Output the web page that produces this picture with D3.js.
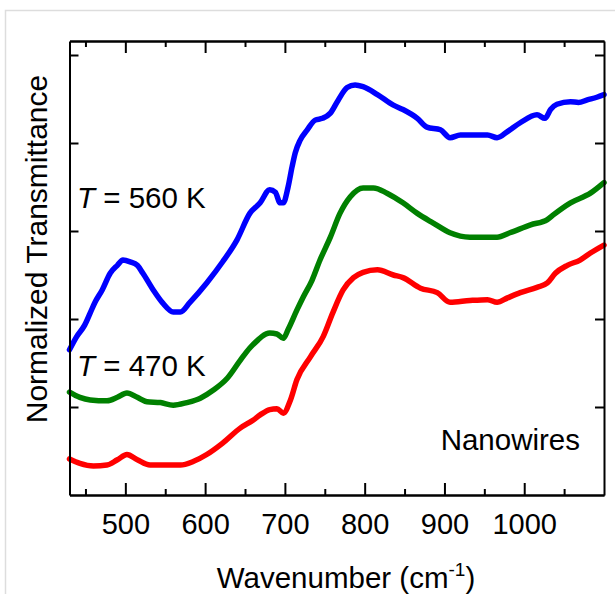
<!DOCTYPE html>
<html>
<head>
<meta charset="utf-8">
<script src="https://cdn.jsdelivr.net/npm/d3@7"></script>
<style>
  body { margin: 0; background: #fff; }
  text { font-family: 'Liberation Sans', Arial, Helvetica, sans-serif; fill: #000; }
  .ejes path, .ejes line { stroke: #000; stroke-width: 2; }
</style>
</head>
<body>
<div id="graf"></div>
<script>
// wavenumber (cm-1) and normalized transmittance (arb. units, 1 = one tick step)
const blueWave = [430, 439, 449, 456, 462, 471, 481, 490, 497, 506, 515, 522, 535, 547, 560, 569, 581, 602, 622, 640, 656, 669, 681, 688, 694, 698, 704, 709, 713, 719, 728, 738, 747, 757, 767, 778, 788, 798, 816, 836, 848, 866, 878, 895, 907, 920, 954, 966, 979, 995, 1016, 1026, 1033, 1041, 1058, 1068, 1079, 1091, 1100]
const blueVal = [1.65, 1.80, 1.93, 2.07, 2.19, 2.33, 2.52, 2.61, 2.67, 2.65, 2.61, 2.52, 2.33, 2.18, 2.08, 2.08, 2.19, 2.41, 2.65, 2.90, 3.20, 3.32, 3.47, 3.44, 3.32, 3.32, 3.50, 3.73, 3.89, 4.03, 4.15, 4.26, 4.28, 4.34, 4.49, 4.63, 4.66, 4.64, 4.55, 4.43, 4.38, 4.28, 4.18, 4.15, 4.06, 4.09, 4.09, 4.06, 4.13, 4.23, 4.32, 4.28, 4.38, 4.44, 4.47, 4.46, 4.49, 4.52, 4.55]

const greenWave = [430, 443, 456, 477, 490, 502, 515, 527, 544, 560, 577, 594, 610, 628, 644, 656, 666, 671, 681, 690, 698, 704, 715, 723, 734, 744, 757, 769, 782, 798, 811, 828, 848, 866, 886, 907, 932, 966, 982, 1008, 1029, 1036, 1058, 1083, 1100]
const greenVal = [1.17, 1.11, 1.08, 1.07, 1.11, 1.16, 1.11, 1.06, 1.05, 1.02, 1.05, 1.10, 1.19, 1.33, 1.53, 1.67, 1.76, 1.80, 1.84, 1.83, 1.78, 1.88, 2.10, 2.25, 2.44, 2.67, 2.93, 3.20, 3.39, 3.49, 3.49, 3.43, 3.32, 3.20, 3.09, 2.98, 2.93, 2.93, 2.98, 3.07, 3.13, 3.18, 3.32, 3.43, 3.55]

const redWave = [430, 443, 460, 477, 490, 502, 515, 531, 552, 569, 585, 602, 622, 644, 660, 669, 681, 690, 698, 707, 715, 732, 748, 760, 773, 786, 798, 816, 836, 848, 870, 891, 907, 932, 954, 966, 979, 995, 1016, 1029, 1039, 1054, 1070, 1083, 1100]
const redVal = [0.41, 0.36, 0.33, 0.34, 0.40, 0.46, 0.40, 0.34, 0.34, 0.34, 0.38, 0.46, 0.59, 0.76, 0.85, 0.91, 0.97, 0.98, 0.93, 1.08, 1.31, 1.57, 1.80, 2.07, 2.33, 2.47, 2.53, 2.56, 2.50, 2.47, 2.35, 2.30, 2.19, 2.21, 2.22, 2.19, 2.24, 2.30, 2.36, 2.41, 2.52, 2.61, 2.67, 2.75, 2.84]

const xMajor = [500, 600, 700, 800, 900, 1000]
const xMinor = [450, 550, 650, 750, 850, 950, 1050]
const yTicks = [1, 2, 3, 4, 5]

const series = [
  { wave: blueWave, val: blueVal, color: '#0000ff' },
  { wave: greenWave, val: greenVal, color: '#008000' },
  { wave: redWave, val: redVal, color: '#ff0000' },
]

const anchoTotal = 615
const altoTotal = 594
const margin = { top: 41, bottom: 99, left: 69.5, right: 11 }
const ancho = anchoTotal - margin.left - margin.right
const alto = altoTotal - margin.top - margin.bottom

const svg = d3.select('#graf')
  .append('svg')
  .attr('width', anchoTotal)
  .attr('height', altoTotal)

// light frame around the figure
svg.append('rect')
  .attr('x', 5.5)
  .attr('y', 10.5)
  .attr('width', 640)
  .attr('height', 640)
  .attr('fill', 'none')
  .attr('stroke', '#dddddd')
  .attr('stroke-width', 1.5)

const g = svg.append('g')
  .attr('transform', `translate(${margin.left}, ${margin.top})`)

const x = d3.scaleLinear().domain([430, 1100]).range([0, ancho])
const y = d3.scaleLinear().domain([0, alto / 88]).range([alto, 0])

const linea = d3.line()
  .x(d => x(d[0]))
  .y(d => y(d[1]))
  .curve(d3.curveMonotoneX)

series.forEach(s => {
  g.append('path')
    .datum(s.wave.map((w, i) => [w, s.val[i]]))
    .attr('d', linea)
    .attr('fill', 'none')
    .attr('stroke', s.color)
    .attr('stroke-width', 5.5)
    .attr('stroke-linejoin', 'round')
    .attr('stroke-linecap', 'round')
})

// axes: major and minor ticks pointing inward
const xAxisGroup = g.append('g')
  .attr('class', 'ejes')
  .attr('transform', `translate(0, ${alto})`)
  .call(d3.axisBottom(x).tickValues(xMajor).tickSize(-12).tickSizeOuter(0).tickFormat(d3.format('d')))
xAxisGroup.selectAll('text')
  .attr('y', 18)
  .attr('font-size', 29)
  .style('font-family', "'Liberation Sans', Arial, sans-serif")

g.append('g')
  .attr('class', 'ejes')
  .attr('transform', `translate(0, ${alto})`)
  .call(d3.axisBottom(x).tickValues(xMinor).tickSize(-6).tickSizeOuter(0).tickFormat(''))

g.append('g')
  .attr('class', 'ejes')
  .call(d3.axisTop(x).tickValues(xMajor).tickSize(-12).tickSizeOuter(0).tickFormat(''))

g.append('g')
  .attr('class', 'ejes')
  .call(d3.axisTop(x).tickValues(xMinor).tickSize(-6).tickSizeOuter(0).tickFormat(''))

g.append('g')
  .attr('class', 'ejes')
  .call(d3.axisLeft(y).tickValues(yTicks).tickSize(-9).tickSizeOuter(0).tickFormat(''))

g.append('g')
  .attr('class', 'ejes')
  .attr('transform', `translate(${ancho}, 0)`)
  .call(d3.axisRight(y).tickValues(yTicks).tickSize(-9).tickSizeOuter(0).tickFormat(''))

g.selectAll('.ejes .domain').attr('stroke-width', 2.5)

// labels
const xLabel = svg.append('text')
  .attr('x', 346)
  .attr('y', 588)
  .attr('text-anchor', 'middle')
  .attr('font-size', 29.5)
xLabel.append('tspan').text('Wavenumber (cm')
xLabel.append('tspan').attr('font-size', 19).attr('dy', -12).text('-1')
xLabel.append('tspan').attr('dy', 12).text(')')

svg.append('text')
  .attr('transform', 'translate(47, 249) rotate(-90)')
  .attr('text-anchor', 'middle')
  .attr('font-size', 30)
  .text('Normalized Transmittance')

const tempLabels = [['560 K', 208], ['470 K', 376]]
tempLabels.forEach(([txt, yy]) => {
  const t = svg.append('text')
    .attr('x', 77)
    .attr('y', yy)
    .attr('font-size', 29.5)
  t.append('tspan').attr('font-style', 'italic').text('T')
  t.append('tspan').text(' = ' + txt)
})

svg.append('text')
  .attr('x', 580)
  .attr('y', 450)
  .attr('text-anchor', 'end')
  .attr('font-size', 29.5)
  .text('Nanowires')
</script>
</body>
</html>
